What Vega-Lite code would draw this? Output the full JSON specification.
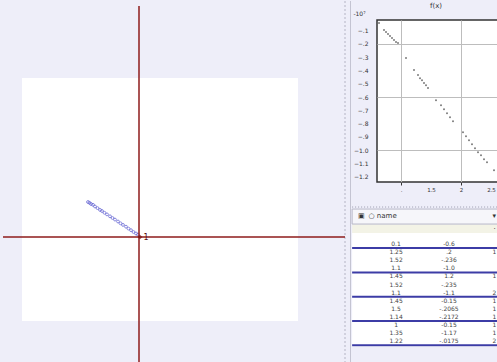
{
  "$schema": "https://vega.github.io/schema/vega-lite/v6.json",
  "padding": 0,
  "background": "#eeeef9",
  "config": {"view": {"stroke": null}, "font": "DejaVu Sans", "concat": {"spacing": 0}},
  "datasets": {
    "frame": [{"x0": -1.18, "x1": 1.58, "y0": 1.59, "y1": -0.84}],
    "cross": [
      {"x": -0.01, "x2": -0.01, "y": -1.26, "y2": 2.31},
      {"x": -1.37, "x2": 2.05, "y": 0, "y2": 0}
    ],
    "split": [
      {"x": 2.05, "y": -1.26, "y2": 2.36}
    ],
    "split2": [
      {"x": 2.105, "y": -1.26, "y2": 2.36}
    ],
    "left": [
      {"x": -0.52, "y": 0.35}, {"x": -0.505, "y": 0.342}, {"x": -0.49, "y": 0.33}, {"x": -0.47, "y": 0.322},
      {"x": -0.45, "y": 0.305}, {"x": -0.425, "y": 0.289}, {"x": -0.4, "y": 0.271},
      {"x": -0.38, "y": 0.26}, {"x": -0.355, "y": 0.242}, {"x": -0.33, "y": 0.226},
      {"x": -0.3, "y": 0.207}, {"x": -0.275, "y": 0.19}, {"x": -0.25, "y": 0.174},
      {"x": -0.22, "y": 0.155}, {"x": -0.195, "y": 0.137}, {"x": -0.17, "y": 0.121},
      {"x": -0.14, "y": 0.103}, {"x": -0.115, "y": 0.084}, {"x": -0.09, "y": 0.068},
      {"x": -0.065, "y": 0.05}, {"x": -0.04, "y": 0.035}, {"x": -0.02, "y": 0.024}
    ],
    "origin": [{"x": 0, "y": 0, "label": "1"}],
    "right": [
      {"x": 0.633, "y": -0.043},
      {"x": 0.717, "y": -0.095}, {"x": 0.75, "y": -0.11}, {"x": 0.783, "y": -0.125}, {"x": 0.817, "y": -0.14},
      {"x": 0.85, "y": -0.155}, {"x": 0.883, "y": -0.17}, {"x": 0.917, "y": -0.185}, {"x": 0.95, "y": -0.194},
      {"x": 1.083, "y": -0.307}, {"x": 1.217, "y": -0.397},
      {"x": 1.283, "y": -0.435}, {"x": 1.317, "y": -0.458}, {"x": 1.35, "y": -0.473}, {"x": 1.383, "y": -0.495},
      {"x": 1.417, "y": -0.511}, {"x": 1.45, "y": -0.533},
      {"x": 1.583, "y": -0.624},
      {"x": 1.667, "y": -0.662}, {"x": 1.717, "y": -0.692}, {"x": 1.767, "y": -0.722}, {"x": 1.817, "y": -0.752},
      {"x": 1.867, "y": -0.782},
      {"x": 2.033, "y": -0.865}, {"x": 2.083, "y": -0.895}, {"x": 2.133, "y": -0.926}, {"x": 2.183, "y": -0.956},
      {"x": 2.233, "y": -0.986}, {"x": 2.283, "y": -1.016}, {"x": 2.333, "y": -1.039}, {"x": 2.383, "y": -1.069},
      {"x": 2.433, "y": -1.092}, {"x": 2.55, "y": -1.152}
    ],
    "combo": [{"x0": 0.17, "x1": 3.0, "y0": -4.32, "y1": -2.47}],
    "hdr": [{"x0": 0.17, "x1": 3.0, "y0": -2.45, "y1": -1.36}],
    "body": [{"x0": 0.17, "x1": 3.0, "y0": -1.36, "y1": 12.7}],
    "dots": [{"x0": 0.17, "x1": 3.0, "y": -4.57}],
    "seps": [
      {"x0": 0.17, "x1": 3.0, "y": 0.5}, {"x0": 0.17, "x1": 3.0, "y": 3.5}, {"x0": 0.17, "x1": 3.0, "y": 6.5},
      {"x0": 0.17, "x1": 3.0, "y": 9.5}, {"x0": 0.17, "x1": 3.0, "y": 12.5}
    ],
    "combotext": [
      {"x": 0.28, "y": -3.4, "t": "▣"},
      {"x": 0.48, "y": -3.4, "t": "○ name"},
      {"x": 2.82, "y": -3.4, "t": "▾"},
      {"x": 2.84, "y": -1.9, "t": "·"}
    ],
    "cells": [
      {"row": 0, "col": 1, "t": "0.1"}, {"row": 0, "col": 2, "t": "-0.6"},
      {"row": 1, "col": 1, "t": "1.25"}, {"row": 1, "col": 2, "t": ".2"}, {"row": 1, "col": 2.86, "t": "1"},
      {"row": 2, "col": 1, "t": "1.52"}, {"row": 2, "col": 2, "t": "-.236"},
      {"row": 3, "col": 1, "t": "1.1"}, {"row": 3, "col": 2, "t": "-1.0"},
      {"row": 4, "col": 1, "t": "1.45"}, {"row": 4, "col": 2, "t": "1.2"}, {"row": 4, "col": 2.86, "t": "1"},
      {"row": 5, "col": 1, "t": "1.52"}, {"row": 5, "col": 2, "t": "-.235"},
      {"row": 6, "col": 1, "t": "1.1"}, {"row": 6, "col": 2, "t": "-1.1"}, {"row": 6, "col": 2.86, "t": "2"},
      {"row": 7, "col": 1, "t": "1.45"}, {"row": 7, "col": 2, "t": "-0.15"}, {"row": 7, "col": 2.86, "t": "1"},
      {"row": 8, "col": 1, "t": "1.5"}, {"row": 8, "col": 2, "t": "-.2065"}, {"row": 8, "col": 2.86, "t": "1"},
      {"row": 9, "col": 1, "t": "1.14"}, {"row": 9, "col": 2, "t": "-.2172"}, {"row": 9, "col": 2.86, "t": "1"},
      {"row": 10, "col": 1, "t": "1"}, {"row": 10, "col": 2, "t": "-0.15"}, {"row": 10, "col": 2.86, "t": "1"},
      {"row": 11, "col": 1, "t": "1.35"}, {"row": 11, "col": 2, "t": "-1.17"}, {"row": 11, "col": 2.86, "t": "1"},
      {"row": 12, "col": 1, "t": "1.22"}, {"row": 12, "col": 2, "t": "-.0175"}, {"row": 12, "col": 2.86, "t": "2"}
    ]
  },
  "hconcat": [
    {
      "width": 351,
      "height": 343,
      "layer": [
        {
          "data": {"name": "frame"},
          "mark": {"type": "rect", "color": "#ffffff"},
          "encoding": {
            "x": {"field": "x0", "type": "quantitative", "scale": {"domain": [-1.4, 2.11], "nice": false, "zero": false}, "axis": null},
            "x2": {"field": "x1"},
            "y": {"field": "y0", "type": "quantitative", "scale": {"domain": [-1.26, 2.17], "nice": false, "zero": false}, "axis": null},
            "y2": {"field": "y1"}
          }
        },
        {
          "data": {"name": "split"},
          "mark": {"type": "rule", "color": "#b4b4c4", "strokeWidth": 1, "strokeDash": [2, 2]},
          "encoding": {
            "x": {"field": "x", "type": "quantitative", "scale": {"domain": [-1.4, 2.11], "nice": false, "zero": false}, "axis": null},
            "y": {"field": "y", "type": "quantitative", "scale": {"domain": [-1.26, 2.17], "nice": false, "zero": false}, "axis": null},
            "y2": {"field": "y2"}
          }
        },
        {
          "data": {"name": "split2"},
          "mark": {"type": "rule", "color": "#c4c4d2", "strokeWidth": 1},
          "encoding": {
            "x": {"field": "x", "type": "quantitative", "scale": {"domain": [-1.4, 2.11], "nice": false, "zero": false}, "axis": null},
            "y": {"field": "y", "type": "quantitative", "scale": {"domain": [-1.26, 2.17], "nice": false, "zero": false}, "axis": null},
            "y2": {"field": "y2"}
          }
        },
        {
          "data": {"name": "left"},
          "mark": {"type": "point", "filled": false, "color": "#5a5ad2", "size": 8, "strokeWidth": 1},
          "encoding": {
            "x": {"field": "x", "type": "quantitative", "scale": {"domain": [-1.4, 2.11], "nice": false, "zero": false}, "axis": null},
            "y": {"field": "y", "type": "quantitative", "scale": {"domain": [-1.26, 2.17], "nice": false, "zero": false}, "axis": null}
          }
        },
        {
          "data": {"name": "cross"},
          "mark": {"type": "rule", "color": "#8e1b1b", "strokeWidth": 1.5},
          "encoding": {
            "x": {"field": "x", "type": "quantitative", "scale": {"domain": [-1.4, 2.11], "nice": false, "zero": false}, "axis": null},
            "x2": {"field": "x2"},
            "y": {"field": "y", "type": "quantitative", "scale": {"domain": [-1.26, 2.17], "nice": false, "zero": false}, "axis": null},
            "y2": {"field": "y2"}
          }
        },
        {
          "data": {"name": "origin"},
          "mark": {"type": "point", "filled": true, "color": "#7a1010", "size": 22, "shape": "diamond"},
          "encoding": {
            "x": {"field": "x", "type": "quantitative", "scale": {"domain": [-1.4, 2.11], "nice": false, "zero": false}, "axis": null},
            "y": {"field": "y", "type": "quantitative", "scale": {"domain": [-1.26, 2.17], "nice": false, "zero": false}, "axis": null}
          }
        },
        {
          "data": {"name": "origin"},
          "mark": {"type": "text", "color": "#5a1010", "fontSize": 8, "dx": 6, "dy": 1, "align": "center", "baseline": "middle"},
          "encoding": {
            "x": {"field": "x", "type": "quantitative", "scale": {"domain": [-1.4, 2.11], "nice": false, "zero": false}, "axis": null},
            "y": {"field": "y", "type": "quantitative", "scale": {"domain": [-1.26, 2.17], "nice": false, "zero": false}, "axis": null},
            "text": {"field": "label"}
          }
        }
      ]
    },
    {
      "spacing": 8,
      "vconcat": [
        {
          "width": 144,
          "height": 162,
          "title": {"text": "f(x)", "fontSize": 7, "fontWeight": "normal", "offset": 1, "dx": -13, "color": "#333333"},
          "view": {"fill": "#ffffff", "stroke": "#333333", "strokeWidth": 1.5},
          "data": {"name": "right"},
          "mark": {"type": "point", "filled": true, "color": "#444444", "size": 4},
          "encoding": {
            "x": {
              "field": "x", "type": "quantitative",
              "scale": {"domain": [0.6, 3.0], "nice": false, "zero": false},
              "axis": {
                "values": [1, 1.5, 2, 2.5], "title": null, "domainOpacity": 0,
                "labelFontSize": 5.5, "labelColor": "#333333", "tickSize": 3, "tickColor": "#333333",
                "labelPadding": 2, "labelExpr": "datum.value == 1 ? '.' : datum.value == 1.5 ? '1.5' : datum.value == 2 ? '2' : '2.5'",
                "gridColor": "#bdbdbd",
                "gridOpacity": {"condition": {"test": "datum.value % 1 === 0", "value": 1}, "value": 0},
                "tickOpacity": {"condition": {"test": "datum.value % 1 === 0", "value": 1}, "value": 0}
              }
            },
            "y": {
              "field": "y", "type": "quantitative",
              "scale": {"domain": [-1.24, -0.02], "nice": false, "zero": false},
              "axis": {
                "values": [-0.1, -0.2, -0.3, -0.4, -0.5, -0.6, -0.7, -0.8, -0.9, -1.0, -1.1, -1.2],
                "title": "-10⁷", "titleAngle": 0, "titleX": -18, "titleY": -4, "titleFontSize": 6,
                "titleFontWeight": "normal", "titleColor": "#333333", "titleAlign": "center", "titleBaseline": "bottom",
                "domainOpacity": 0, "tickSize": 0, "labelPadding": 9, "labelFontSize": 6, "labelColor": "#333333",
                "labelExpr": "replace(format(datum.value, '.1f'), '0.', '.')",
                "minExtent": 25, "maxExtent": 25,
                "gridColor": "#bdbdbd",
                "gridOpacity": {"condition": {"test": "round(abs(datum.value) * 10) % 4 === 2", "value": 1}, "value": 0}
              }
            }
          }
        },
        {
          "width": 144,
          "height": 162,
          "layer": [
            {
              "data": {"name": "body"},
              "mark": {"type": "rect", "color": "#ffffff"},
              "encoding": {
                "x": {"field": "x0", "type": "quantitative", "scale": {"domain": [0.64, 3.36], "nice": false, "zero": false}, "axis": null},
                "x2": {"field": "x1"},
                "y": {"field": "y0", "type": "quantitative", "scale": {"domain": [-5.19, 14.81], "nice": false, "zero": false, "reverse": true}, "axis": null},
                "y2": {"field": "y1"}
              }
            },
            {
              "data": {"name": "hdr"},
              "mark": {"type": "rect", "color": "#f3f3e6"},
              "encoding": {
                "x": {"field": "x0", "type": "quantitative", "scale": {"domain": [0.64, 3.36], "nice": false, "zero": false}, "axis": null},
                "x2": {"field": "x1"},
                "y": {"field": "y0", "type": "quantitative", "scale": {"domain": [-5.19, 14.81], "nice": false, "zero": false, "reverse": true}, "axis": null},
                "y2": {"field": "y1"}
              }
            },
            {
              "data": {"name": "combo"},
              "mark": {"type": "rect", "color": "#f6f6fa", "stroke": "#b8b8c8", "strokeWidth": 1},
              "encoding": {
                "x": {"field": "x0", "type": "quantitative", "scale": {"domain": [0.64, 3.36], "nice": false, "zero": false}, "axis": null},
                "x2": {"field": "x1"},
                "y": {"field": "y0", "type": "quantitative", "scale": {"domain": [-5.19, 14.81], "nice": false, "zero": false, "reverse": true}, "axis": null},
                "y2": {"field": "y1"}
              }
            },
            {
              "data": {"name": "dots"},
              "mark": {"type": "rule", "color": "#9a9aae", "strokeWidth": 1, "strokeDash": [1, 2]},
              "encoding": {
                "x": {"field": "x0", "type": "quantitative", "scale": {"domain": [0.64, 3.36], "nice": false, "zero": false}, "axis": null},
                "x2": {"field": "x1"},
                "y": {"field": "y", "type": "quantitative", "scale": {"domain": [-5.19, 14.81], "nice": false, "zero": false, "reverse": true}, "axis": null}
              }
            },
            {
              "data": {"name": "seps"},
              "mark": {"type": "rule", "color": "#3c3ca6", "strokeWidth": 2},
              "encoding": {
                "x": {"field": "x0", "type": "quantitative", "scale": {"domain": [0.64, 3.36], "nice": false, "zero": false}, "axis": null},
                "x2": {"field": "x1"},
                "y": {"field": "y", "type": "quantitative", "scale": {"domain": [-5.19, 14.81], "nice": false, "zero": false, "reverse": true}, "axis": null}
              }
            },
            {
              "data": {"name": "combotext"},
              "mark": {"type": "text", "fontSize": 7, "color": "#333333", "align": "left", "baseline": "middle"},
              "encoding": {
                "x": {"field": "x", "type": "quantitative", "scale": {"domain": [0.64, 3.36], "nice": false, "zero": false}, "axis": null},
                "y": {"field": "y", "type": "quantitative", "scale": {"domain": [-5.19, 14.81], "nice": false, "zero": false, "reverse": true}, "axis": null},
                "text": {"field": "t"}
              }
            },
            {
              "data": {"name": "cells"},
              "mark": {"type": "text", "fontSize": 6, "color": "#444444", "align": "center", "baseline": "middle"},
              "encoding": {
                "x": {"field": "col", "type": "quantitative", "scale": {"domain": [0.64, 3.36], "nice": false, "zero": false}, "axis": null},
                "y": {"field": "row", "type": "quantitative", "scale": {"domain": [-5.19, 14.81], "nice": false, "zero": false, "reverse": true}, "axis": null},
                "text": {"field": "t"}
              }
            }
          ]
        }
      ]
    }
  ]
}
